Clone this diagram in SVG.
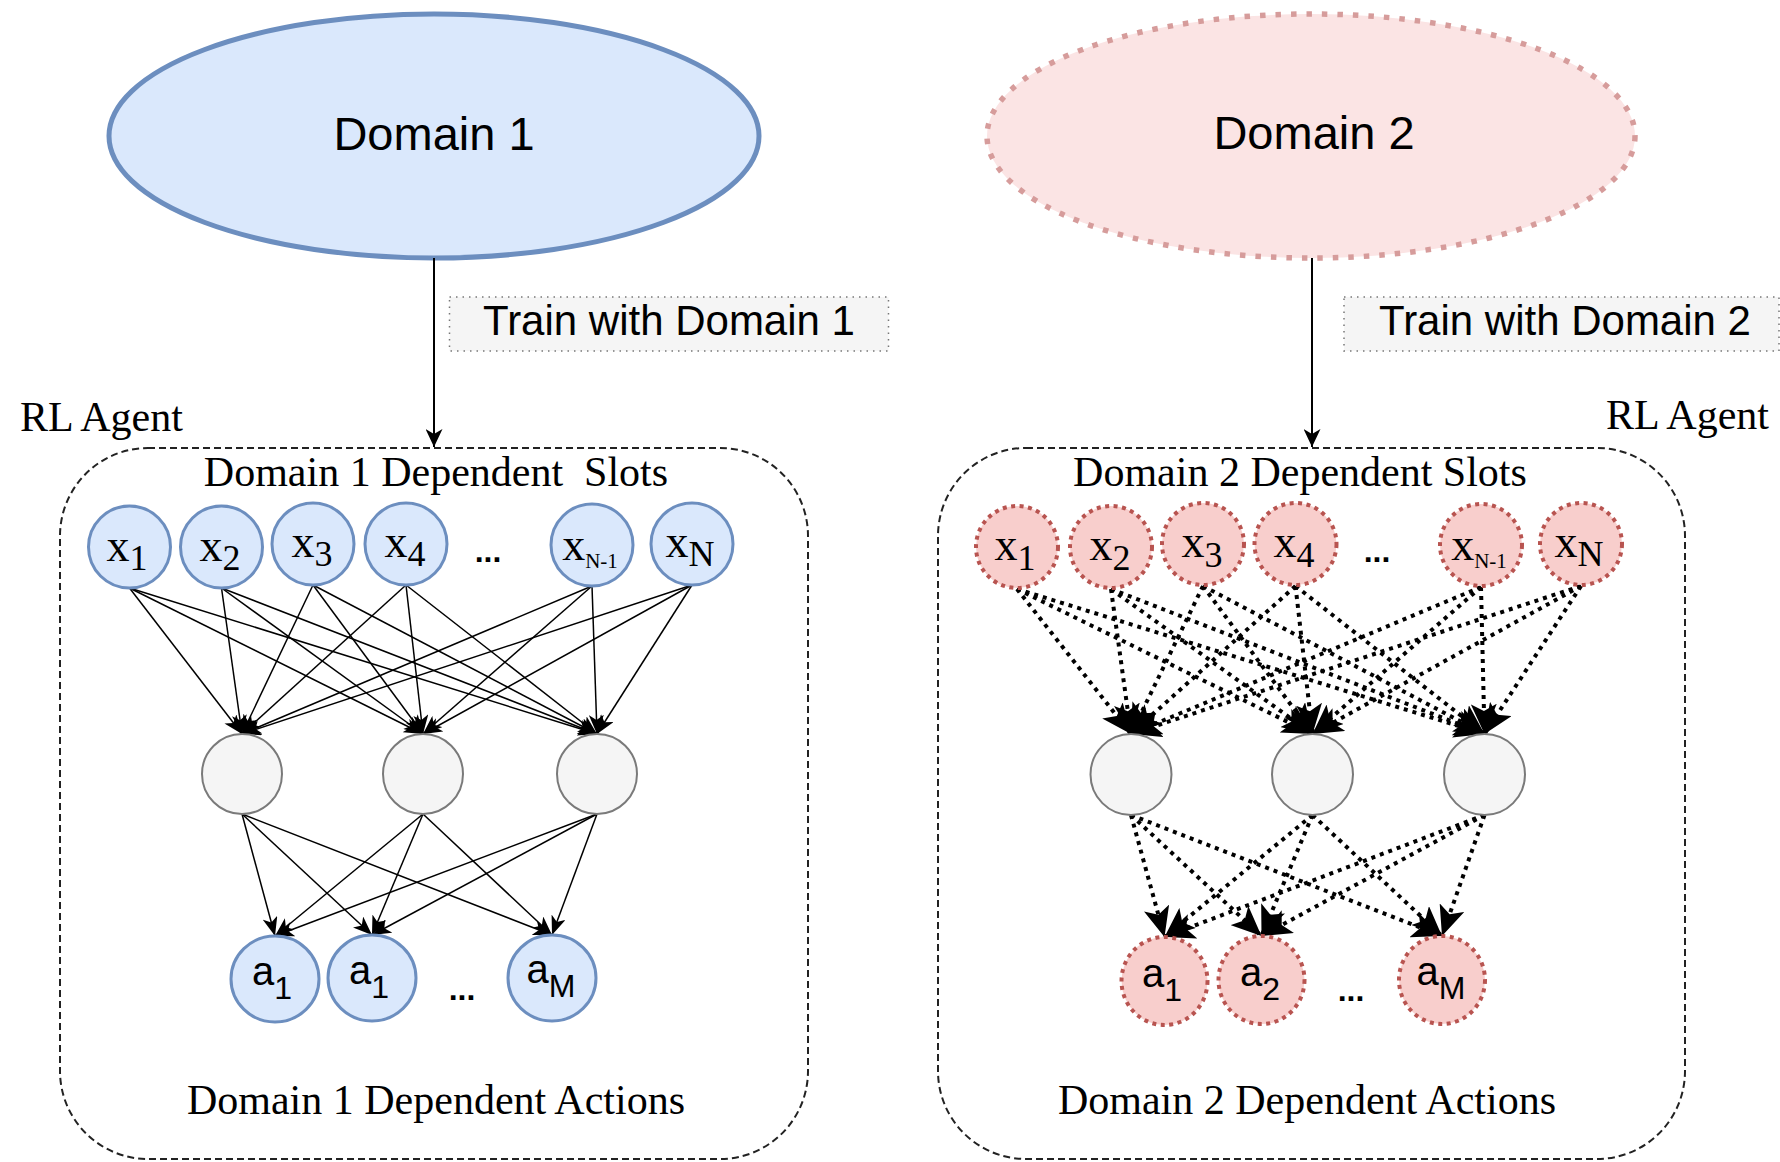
<svg xmlns="http://www.w3.org/2000/svg" width="1780" height="1162" viewBox="0 0 1780 1162">
  <style>
    .sans { font-family: "Liberation Sans", Arial, sans-serif; fill: #000; }
    .serif { font-family: "Liberation Serif", "Times New Roman", serif; fill: #000; }
    .d1node { fill: #dae8fc; stroke: #6c8ebf; stroke-width: 3; }
    .d2node { fill: #f8cecc; stroke: #b85450; stroke-width: 4; stroke-dasharray: 4 4.5; }
    .hidden { fill: #f5f5f5; stroke: #7a7a7a; stroke-width: 2; }
    .agent { fill: none; stroke: #222; stroke-width: 2; stroke-dasharray: 7 4; }
    .tag { fill: #f5f5f5; stroke: #777; stroke-width: 1.5; stroke-dasharray: 1.5 5; }
    .solid { stroke: #000; stroke-width: 1.5; fill: none; marker-end: url(#arrS); }
    .dotted { stroke: #000; stroke-width: 4; stroke-dasharray: 4 5; fill: none; marker-end: url(#arrD); }
    .train { stroke: #000; stroke-width: 2; fill: none; marker-end: url(#arrV); }
    .xlab { font-size: 46px; }
    .xsub { font-size: 36px; }
    .alab { font-size: 40px; }
    .asub { font-size: 32px; }
    .dots { font-size: 32px; font-weight: bold; }
  </style>
  <defs>
    <marker id="arrS" markerUnits="userSpaceOnUse" viewBox="0 0 19 15" markerWidth="19" markerHeight="15" refX="19" refY="7.5" orient="auto">
      <path d="M0,0 L19,7.5 L0,15 L5,7.5 Z" fill="#000"/>
    </marker>
    <marker id="arrD" markerUnits="userSpaceOnUse" viewBox="0 0 30 26" markerWidth="30" markerHeight="26" refX="30" refY="13" orient="auto">
      <path d="M0,0 L30,13 L0,26 L7,13 Z" fill="#000"/>
    </marker>
    <marker id="arrV" markerUnits="userSpaceOnUse" viewBox="0 0 18 17" markerWidth="18" markerHeight="17" refX="18" refY="8.5" orient="auto">
      <path d="M0,0 L18,8.5 L0,17 L5,8.5 Z" fill="#000"/>
    </marker>
  </defs>

  <rect width="1780" height="1162" fill="#fff"/>

  <!-- domains -->
  <g id="domain1">
    <ellipse cx="434" cy="136" rx="325" ry="122" fill="#dae8fc" stroke="#6c8ebf" stroke-width="5"/>
    <text class="sans" x="434" y="150" font-size="47" text-anchor="middle">Domain 1</text>
  </g>
  <g id="domain2">
    <ellipse cx="1311" cy="136" rx="324" ry="122" fill="#fbe4e4" stroke="#d69c9b" stroke-width="5.5" stroke-dasharray="5.5 10"/>
    <text class="sans" x="1314" y="149" font-size="47" text-anchor="middle">Domain 2</text>
  </g>

  <!-- training labels -->
  <g id="train1-label">
    <rect class="tag" x="449.5" y="297" width="439" height="54"/>
    <text class="sans" x="669" y="335" font-size="42" text-anchor="middle">Train with Domain 1</text>
  </g>
  <g id="train2-label">
    <rect class="tag" x="1344" y="297" width="435" height="54"/>
    <text class="sans" x="1565" y="335" font-size="42" text-anchor="middle">Train with Domain 2</text>
  </g>

  <!-- agent containers -->
  <g id="agent1">
    <rect class="agent" x="60" y="448" width="748" height="711" rx="88" ry="88"/>
    <text class="serif" x="20" y="431" font-size="42">RL Agent</text>
    <text class="serif" x="436" y="486" font-size="42" text-anchor="middle" style="white-space:pre">Domain 1 Dependent  Slots</text>
    <text class="serif" x="436" y="1114" font-size="42" text-anchor="middle">Domain 1 Dependent Actions</text>
  </g>
  <g id="agent2">
    <rect class="agent" x="938" y="448" width="747" height="711" rx="88" ry="88"/>
    <text class="serif" x="1769" y="429" font-size="42" text-anchor="end">RL Agent</text>
    <text class="serif" x="1300" y="486" font-size="42" text-anchor="middle">Domain 2 Dependent Slots</text>
    <text class="serif" x="1307" y="1114" font-size="42" text-anchor="middle">Domain 2 Dependent Actions</text>
  </g>

  <!-- connectors -->
  <g id="connectors">
    <line class="train" x1="434" y1="258" x2="434" y2="447"/>
    <line class="train" x1="1312" y1="258" x2="1312" y2="447"/>

    <!-- domain 1: slots to hidden layer -->
    <line class="solid" x1="129.5" y1="588" x2="242" y2="734"/>
    <line class="solid" x1="129.5" y1="588" x2="423" y2="734"/>
    <line class="solid" x1="129.5" y1="588" x2="597" y2="734"/>
    <line class="solid" x1="221.5" y1="588" x2="242" y2="734"/>
    <line class="solid" x1="221.5" y1="588" x2="423" y2="734"/>
    <line class="solid" x1="221.5" y1="588" x2="597" y2="734"/>
    <line class="solid" x1="313" y1="585" x2="242" y2="734"/>
    <line class="solid" x1="313" y1="585" x2="423" y2="734"/>
    <line class="solid" x1="313" y1="585" x2="597" y2="734"/>
    <line class="solid" x1="406" y1="585" x2="242" y2="734"/>
    <line class="solid" x1="406" y1="585" x2="423" y2="734"/>
    <line class="solid" x1="406" y1="585" x2="597" y2="734"/>
    <line class="solid" x1="592" y1="586" x2="242" y2="734"/>
    <line class="solid" x1="592" y1="586" x2="423" y2="734"/>
    <line class="solid" x1="592" y1="586" x2="597" y2="734"/>
    <line class="solid" x1="692" y1="585" x2="242" y2="734"/>
    <line class="solid" x1="692" y1="585" x2="423" y2="734"/>
    <line class="solid" x1="692" y1="585" x2="597" y2="734"/>

    <!-- domain 1: hidden layer to actions -->
    <line class="solid" x1="242" y1="814" x2="275" y2="936"/>
    <line class="solid" x1="242" y1="814" x2="372" y2="935"/>
    <line class="solid" x1="242" y1="814" x2="552" y2="935"/>
    <line class="solid" x1="423" y1="814" x2="275" y2="936"/>
    <line class="solid" x1="423" y1="814" x2="372" y2="935"/>
    <line class="solid" x1="423" y1="814" x2="552" y2="935"/>
    <line class="solid" x1="597" y1="814" x2="275" y2="936"/>
    <line class="solid" x1="597" y1="814" x2="372" y2="935"/>
    <line class="solid" x1="597" y1="814" x2="552" y2="935"/>

    <!-- domain 2: slots to hidden layer -->
    <line class="dotted" x1="1017" y1="589" x2="1131" y2="734"/>
    <line class="dotted" x1="1017" y1="589" x2="1312.5" y2="734"/>
    <line class="dotted" x1="1017" y1="589" x2="1484.5" y2="734"/>
    <line class="dotted" x1="1111" y1="589" x2="1131" y2="734"/>
    <line class="dotted" x1="1111" y1="589" x2="1312.5" y2="734"/>
    <line class="dotted" x1="1111" y1="589" x2="1484.5" y2="734"/>
    <line class="dotted" x1="1203" y1="586" x2="1131" y2="734"/>
    <line class="dotted" x1="1203" y1="586" x2="1312.5" y2="734"/>
    <line class="dotted" x1="1203" y1="586" x2="1484.5" y2="734"/>
    <line class="dotted" x1="1295.5" y1="586" x2="1131" y2="734"/>
    <line class="dotted" x1="1295.5" y1="586" x2="1312.5" y2="734"/>
    <line class="dotted" x1="1295.5" y1="586" x2="1484.5" y2="734"/>
    <line class="dotted" x1="1481" y1="587" x2="1131" y2="734"/>
    <line class="dotted" x1="1481" y1="587" x2="1312.5" y2="734"/>
    <line class="dotted" x1="1481" y1="587" x2="1484.5" y2="734"/>
    <line class="dotted" x1="1581" y1="586" x2="1131" y2="734"/>
    <line class="dotted" x1="1581" y1="586" x2="1312.5" y2="734"/>
    <line class="dotted" x1="1581" y1="586" x2="1484.5" y2="734"/>

    <!-- domain 2: hidden layer to actions -->
    <line class="dotted" x1="1131" y1="815" x2="1164.5" y2="937"/>
    <line class="dotted" x1="1131" y1="815" x2="1261.5" y2="936"/>
    <line class="dotted" x1="1131" y1="815" x2="1442" y2="936"/>
    <line class="dotted" x1="1312.5" y1="815" x2="1164.5" y2="937"/>
    <line class="dotted" x1="1312.5" y1="815" x2="1261.5" y2="936"/>
    <line class="dotted" x1="1312.5" y1="815" x2="1442" y2="936"/>
    <line class="dotted" x1="1484.5" y1="815" x2="1164.5" y2="937"/>
    <line class="dotted" x1="1484.5" y1="815" x2="1261.5" y2="936"/>
    <line class="dotted" x1="1484.5" y1="815" x2="1442" y2="936"/>
  </g>

  <!-- domain 1 slot nodes -->
  <g id="d1-x1"><ellipse class="d1node" cx="129.5" cy="547" rx="41" ry="41"/><text class="serif xlab" x="127" y="561" text-anchor="middle">x<tspan class="xsub" dy="9">1</tspan></text></g>
  <g id="d1-x2"><ellipse class="d1node" cx="221.5" cy="547" rx="41" ry="41"/><text class="serif xlab" x="220" y="561" text-anchor="middle">x<tspan class="xsub" dy="9">2</tspan></text></g>
  <g id="d1-x3"><ellipse class="d1node" cx="313" cy="544" rx="41" ry="41"/><text class="serif xlab" x="312" y="557" text-anchor="middle">x<tspan class="xsub" dy="9">3</tspan></text></g>
  <g id="d1-x4"><ellipse class="d1node" cx="406" cy="544" rx="41" ry="41"/><text class="serif xlab" x="405" y="557" text-anchor="middle">x<tspan class="xsub" dy="9">4</tspan></text></g>
  <text class="sans dots" x="488" y="562" text-anchor="middle">...</text>
  <g id="d1-xN-1"><ellipse class="d1node" cx="592" cy="545" rx="41" ry="41"/><text class="serif xlab" x="590" y="560" text-anchor="middle">x<tspan font-size="21" dy="8">N-1</tspan></text></g>
  <g id="d1-xN"><ellipse class="d1node" cx="692" cy="544" rx="41" ry="41"/><text class="serif xlab" x="690" y="557" text-anchor="middle">x<tspan class="xsub" dy="9">N</tspan></text></g>

  <!-- domain 1 hidden nodes -->
  <g id="d1-h1"><ellipse class="hidden" cx="242" cy="774" rx="40" ry="40"/></g>
  <g id="d1-h2"><ellipse class="hidden" cx="423" cy="774" rx="40" ry="40"/></g>
  <g id="d1-h3"><ellipse class="hidden" cx="597" cy="774" rx="40" ry="40"/></g>

  <!-- domain 1 action nodes -->
  <g id="d1-a1"><ellipse class="d1node" cx="275" cy="979" rx="44" ry="43"/><text class="sans alab" x="272" y="985" text-anchor="middle">a<tspan class="asub" dy="14">1</tspan></text></g>
  <g id="d1-a1b"><ellipse class="d1node" cx="372" cy="978" rx="44" ry="43"/><text class="sans alab" x="369" y="984" text-anchor="middle">a<tspan class="asub" dy="14">1</tspan></text></g>
  <text class="sans dots" x="462" y="1000" text-anchor="middle">...</text>
  <g id="d1-aM"><ellipse class="d1node" cx="552" cy="978" rx="44" ry="43"/><text class="sans alab" x="551" y="983" text-anchor="middle">a<tspan class="asub" dy="14">M</tspan></text></g>

  <!-- domain 2 slot nodes -->
  <g id="d2-x1"><ellipse class="d2node" cx="1017" cy="547" rx="41" ry="41"/><text class="serif xlab" x="1015" y="560" text-anchor="middle">x<tspan class="xsub" dy="10">1</tspan></text></g>
  <g id="d2-x2"><ellipse class="d2node" cx="1111" cy="547" rx="41" ry="41"/><text class="serif xlab" x="1110" y="560" text-anchor="middle">x<tspan class="xsub" dy="10">2</tspan></text></g>
  <g id="d2-x3"><ellipse class="d2node" cx="1203" cy="544" rx="41" ry="41"/><text class="serif xlab" x="1202" y="557" text-anchor="middle">x<tspan class="xsub" dy="10">3</tspan></text></g>
  <g id="d2-x4"><ellipse class="d2node" cx="1295.5" cy="544" rx="41" ry="41"/><text class="serif xlab" x="1294" y="557" text-anchor="middle">x<tspan class="xsub" dy="10">4</tspan></text></g>
  <text class="sans dots" x="1377" y="562" text-anchor="middle">...</text>
  <g id="d2-xN-1"><ellipse class="d2node" cx="1481" cy="545" rx="41" ry="41"/><text class="serif xlab" x="1479" y="560" text-anchor="middle">x<tspan font-size="21" dy="8">N-1</tspan></text></g>
  <g id="d2-xN"><ellipse class="d2node" cx="1581" cy="544" rx="41" ry="41"/><text class="serif xlab" x="1579" y="557" text-anchor="middle">x<tspan class="xsub" dy="9">N</tspan></text></g>

  <!-- domain 2 hidden nodes -->
  <g id="d2-h1"><ellipse class="hidden" cx="1131" cy="774.5" rx="40.5" ry="40.5"/></g>
  <g id="d2-h2"><ellipse class="hidden" cx="1312.5" cy="774.5" rx="40.5" ry="40.5"/></g>
  <g id="d2-h3"><ellipse class="hidden" cx="1484.5" cy="774.5" rx="40.5" ry="40.5"/></g>

  <!-- domain 2 action nodes -->
  <g id="d2-a1"><ellipse class="d2node" cx="1164.5" cy="981" rx="43" ry="44"/><text class="sans alab" x="1162" y="987" text-anchor="middle">a<tspan class="asub" dy="14">1</tspan></text></g>
  <g id="d2-a2"><ellipse class="d2node" cx="1261.5" cy="980" rx="43" ry="44"/><text class="sans alab" x="1260" y="986" text-anchor="middle">a<tspan class="asub" dy="14">2</tspan></text></g>
  <text class="sans dots" x="1351" y="1001" text-anchor="middle">...</text>
  <g id="d2-aM"><ellipse class="d2node" cx="1442" cy="980" rx="43" ry="44"/><text class="sans alab" x="1441" y="985" text-anchor="middle">a<tspan class="asub" dy="14">M</tspan></text></g>
</svg>
